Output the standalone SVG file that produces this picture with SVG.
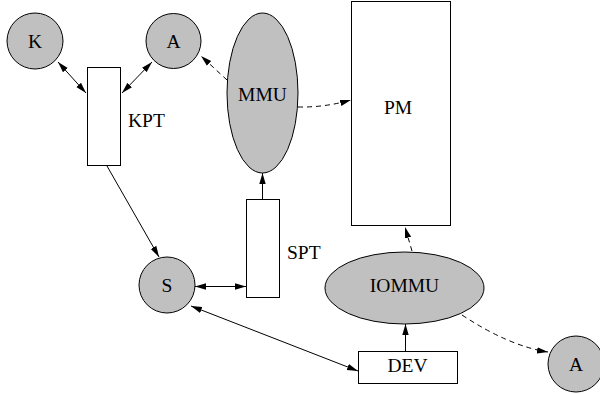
<svg xmlns="http://www.w3.org/2000/svg" width="600" height="395" viewBox="0 0 600 395">
<style>
.n{fill:#c0c0c0;stroke:#000;stroke-width:1}
.r{fill:#fff;stroke:#000;stroke-width:1}
.t{font-family:"Liberation Serif","Times New Roman",serif;font-size:19.5px;fill:#000}
.c{text-anchor:middle}
.e{fill:none;stroke:#000;stroke-width:1}
.d{stroke-dasharray:5,4}
</style>
<defs>
<marker id="ah" markerUnits="userSpaceOnUse" markerWidth="12" markerHeight="8" refX="11" refY="4" orient="auto-start-reverse">
<path d="M0,0.8 L11,4 L0,7.2 Z" fill="#000"/>
</marker>
</defs>
<g id="connectors">
<line class="e" x1="58" y1="62" x2="86" y2="93" marker-start="url(#ah)" marker-end="url(#ah)"/>
<line class="e" x1="122" y1="93" x2="152" y2="62" marker-start="url(#ah)" marker-end="url(#ah)"/>
<line class="e d" x1="227" y1="80" x2="201" y2="56" marker-end="url(#ah)"/>
<path class="e d" d="M298,107 Q325,107.5 351,100" marker-end="url(#ah)"/>
<line class="e" x1="107" y1="166" x2="159" y2="257" marker-end="url(#ah)"/>
<line class="e" x1="262.5" y1="199" x2="262.5" y2="173" marker-end="url(#ah)"/>
<line class="e" x1="195" y1="286.5" x2="246" y2="286.5" marker-start="url(#ah)" marker-end="url(#ah)"/>
<line class="e" x1="191" y1="306" x2="358" y2="371" marker-start="url(#ah)" marker-end="url(#ah)"/>
<line class="e" x1="405.5" y1="351" x2="405.5" y2="324" marker-end="url(#ah)"/>
<line class="e d" x1="412" y1="251" x2="405" y2="227" marker-end="url(#ah)"/>
<path class="e d" d="M462,315 Q509,346 548,352" marker-end="url(#ah)"/>
</g>
<g id="K"><circle class="n" cx="35" cy="41" r="28"/><text class="t c" x="35" y="48">K</text></g>
<g id="A1"><circle class="n" cx="173.5" cy="41" r="27.5"/><text class="t c" x="173.5" y="48">A</text></g>
<g id="KPT"><rect class="r" x="87.5" y="67.5" width="33" height="98"/><text class="t" x="128" y="127">KPT</text></g>
<g id="MMU"><ellipse class="n" cx="262.5" cy="93" rx="35.5" ry="80"/><text class="t c" x="262.5" y="101">MMU</text></g>
<g id="PM"><rect class="r" x="351.5" y="1.5" width="99" height="224"/><text class="t c" x="398" y="114">PM</text></g>
<g id="SPT"><rect class="r" x="246.5" y="199.5" width="33" height="98"/><text class="t" x="287" y="259">SPT</text></g>
<g id="S"><circle class="n" cx="167" cy="285" r="28"/><text class="t c" x="167" y="292">S</text></g>
<g id="IOMMU"><ellipse class="n" cx="404.5" cy="288" rx="79.5" ry="36"/><text class="t c" x="404.5" y="292">IOMMU</text></g>
<g id="DEV"><rect class="r" x="358.5" y="351.5" width="99" height="32"/><text class="t c" x="407.5" y="372">DEV</text></g>
<g id="A2"><circle class="n" cx="576" cy="364" r="28"/><text class="t c" x="576" y="371">A</text></g>
</svg>
